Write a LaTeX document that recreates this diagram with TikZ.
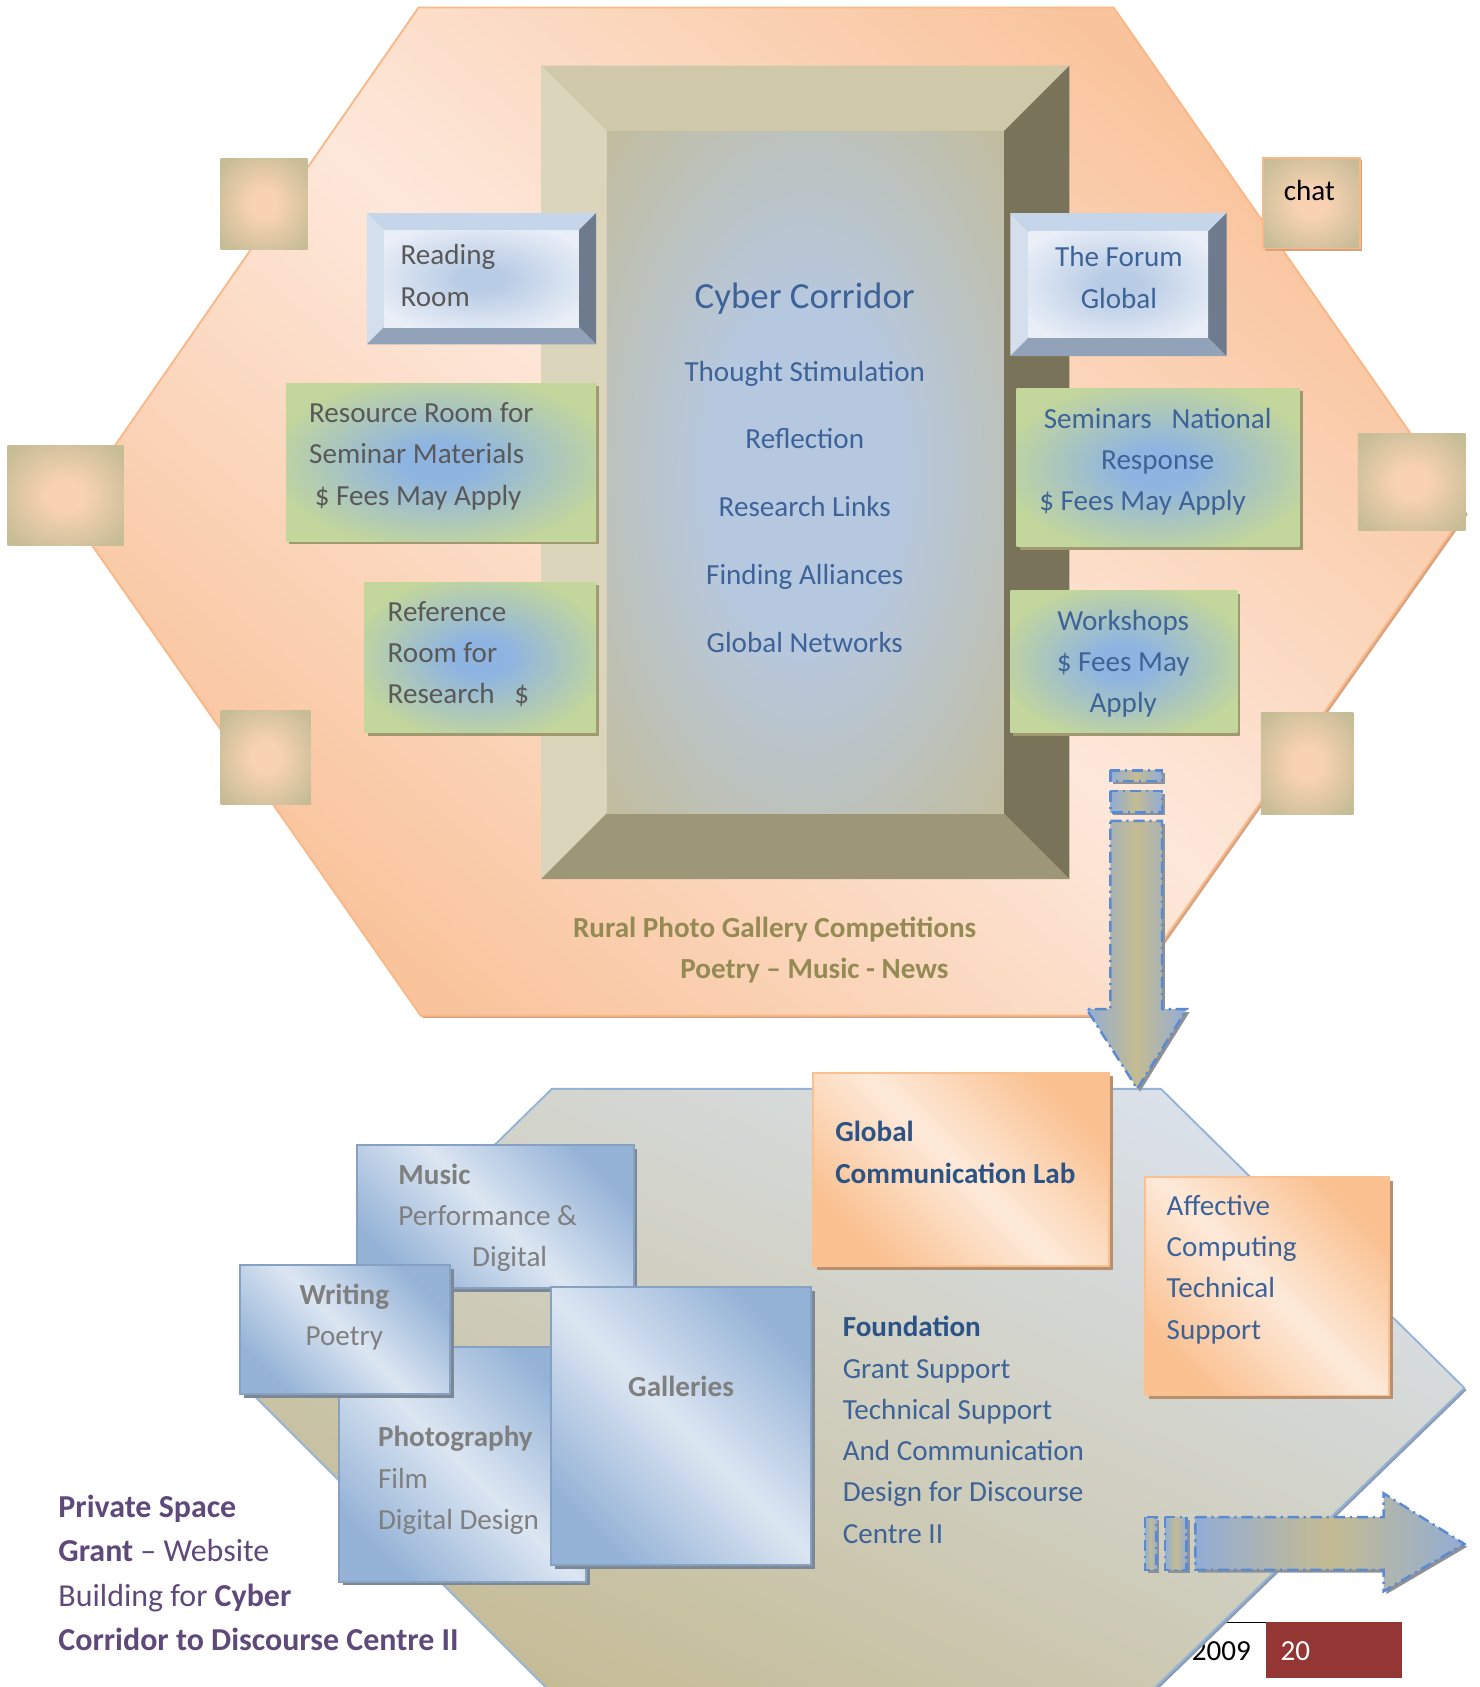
\documentclass[tikz,border=0pt]{standalone}
\usepackage{fontspec}
\setmainfont{Carlito}
\usetikzlibrary{fit,shadows}

\definecolor{hxdark}{HTML}{F9C39B}
\definecolor{hxlight}{HTML}{FDE8DB}
\definecolor{hxline}{HTML}{F8B887}
\definecolor{hxshadow}{HTML}{D6A27F}
\definecolor{cortop}{HTML}{CFC9A9}
\definecolor{corleft}{HTML}{DBD5BC}
\definecolor{corright}{HTML}{79735A}
\definecolor{corbottom}{HTML}{9D9677}
\definecolor{cortan}{HTML}{C2BC9C}
\definecolor{corblue}{HTML}{B6C8E0}
\definecolor{bbtop}{HTML}{C5D5EA}
\definecolor{bbleft}{HTML}{D4DFEE}
\definecolor{bbright}{HTML}{6E7B8D}
\definecolor{bbbottom}{HTML}{92A2B8}
\definecolor{bblight}{HTML}{E9EEF7}
\definecolor{bbcentre}{HTML}{B9CCE5}
\definecolor{grgreen}{HTML}{C3D69C}
\definecolor{grblue}{HTML}{8EB4E2}
\definecolor{grshadow}{HTML}{A09871}
\definecolor{sqtan}{HTML}{C6BC96}
\definecolor{sqpeach}{HTML}{F8D2B2}
\definecolor{lhtop}{HTML}{DAE1EA}
\definecolor{lhbottom}{HTML}{C5BC96}
\definecolor{lhline}{HTML}{95B3D7}
\definecolor{lhshadow}{HTML}{8C9CB2}
\definecolor{bxblue}{HTML}{95B3D7}
\definecolor{bxlight}{HTML}{DCE6F2}
\definecolor{bxshadow}{HTML}{7D8894}
\definecolor{ordark}{HTML}{FAC090}
\definecolor{orlight}{HTML}{FDEADA}
\definecolor{orshadow}{HTML}{B98F6D}
\definecolor{arblue}{HTML}{92ADD4}
\definecolor{artan}{HTML}{C4BB92}
\definecolor{ardash}{HTML}{5A8AD2}
\definecolor{arshadow}{HTML}{8E9196}
\definecolor{txgray}{HTML}{595959}
\definecolor{txgrey}{HTML}{7F7F7F}
\definecolor{txblue}{HTML}{3D6398}
\definecolor{txnavy}{HTML}{2C5386}
\definecolor{txolive}{HTML}{948A54}
\definecolor{txpurple}{HTML}{5F497A}
\definecolor{pagered}{HTML}{943634}

\pgfdeclareradialshading{corglow}{\pgfpoint{0bp}{0bp}}{color(0bp)=(corblue); color(12bp)=(corblue); color(36bp)=(cortan); color(50bp)=(cortan)}
\pgfdeclareradialshading{bbglow}{\pgfpoint{0bp}{0bp}}{color(0bp)=(bbcentre); color(6bp)=(bbcentre); color(30bp)=(bblight); color(50bp)=(bblight)}
\pgfdeclareradialshading{grglow}{\pgfpoint{0bp}{0bp}}{color(0bp)=(grblue); color(6bp)=(grblue); color(28bp)=(grgreen); color(50bp)=(grgreen)}
\pgfdeclareradialshading{sqglow}{\pgfpoint{0bp}{0bp}}{color(0bp)=(sqpeach); color(8bp)=(sqpeach); color(32bp)=(sqtan); color(50bp)=(sqtan)}

\newcommand{\boxfont}{\fontsize{15.4}{21.8}\selectfont}
% x1 y1 x2 y2 depth colourset
\newcommand{\bevelbox}[6]{%
  \fill[#6top] (#1,#2) -- (#3,#2) -- ({#3-#5},{#2+#5}) -- ({#1+#5},{#2+#5}) -- cycle;
  \fill[#6left] (#1,#2) -- ({#1+#5},{#2+#5}) -- ({#1+#5},{#4-#5}) -- (#1,#4) -- cycle;
  \fill[#6right] (#3,#2) -- (#3,#4) -- ({#3-#5},{#4-#5}) -- ({#3-#5},{#2+#5}) -- cycle;
  \fill[#6bottom] (#1,#4) -- ({#1+#5},{#4-#5}) -- ({#3-#5},{#4-#5}) -- (#3,#4) -- cycle;
}

\tikzset{
  hexupper/.style={
    top color=hxdark, bottom color=hxdark, middle color=hxlight,
    shading angle=-40, draw=hxline, line width=1pt,
    drop shadow={fill=hxshadow, opacity=1, shadow xshift=1.2pt, shadow yshift=-1.2pt}},
  hexlower/.style={
    top color=lhtop, bottom color=lhbottom, shading angle=-25,
    draw=lhline, line width=1pt,
    drop shadow={fill=lhshadow, opacity=1, shadow xshift=1.2pt, shadow yshift=-1.2pt}},
  glowbox/.style={inner sep=0pt, shade, shading=#1},
  tansq/.style={inner sep=0pt, shade, shading=sqglow},
  chatsq/.style={tansq, draw=hxline, line width=1pt,
    drop shadow={fill=hxshadow, opacity=1, shadow xshift=1.2pt, shadow yshift=-1.2pt}},
  greenbox/.style={inner sep=0pt, shade, shading=grglow,
    drop shadow={fill=grshadow, opacity=1, shadow xshift=1.6pt, shadow yshift=-1.6pt}},
  bluebox/.style={inner sep=0pt, top color=bxblue, bottom color=bxblue,
    middle color=bxlight, shading angle=-45, draw=bxblue!90!black, line width=1pt,
    drop shadow={fill=bxshadow, opacity=1, shadow xshift=2pt, shadow yshift=-2pt}},
  orangebox/.style={inner sep=0pt, top color=ordark, bottom color=ordark,
    middle color=orlight, shading angle=-45, draw=ordark, line width=1pt,
    drop shadow={fill=orshadow, opacity=1, shadow xshift=2pt, shadow yshift=-2pt}},
  arrowpiece/.style={left color=arblue, right color=arblue, middle color=artan,
    draw=ardash, line width=1.3pt, dash pattern=on 6pt off 2.5pt on 1.2pt off 2.5pt,
    drop shadow={fill=arshadow, opacity=1, shadow xshift=1.5pt, shadow yshift=-1.5pt}},
  arrowblock/.style={arrowpiece, fill=arblue!95!white},
  boxtext/.style={font=\boxfont, inner sep=0pt, align=left},
}

\begin{document}
\begin{tikzpicture}[x=0.02cm,y=-0.02cm]
  \useasboundingbox (0,0) rectangle (1375,1568);

  % page footer, under the lower hexagon
  \draw[black, line width=0.8pt] (1040,1508) coordinate (footl) -- (1177,1508) coordinate (footr);
  \node[fill=pagered, inner sep=0pt, fit={(1177,1508) (1303,1560)}] (pagebox) {};
  \node[boxtext, text=white, anchor=west] (pagenum) at (1190,1535) {20};
  \node[boxtext, text=black, anchor=east] (pageyear) at (1163,1535) {2009};

  % upper hexagon
  \draw[hexupper] (389,7) -- (1035,7) -- (1362,476) -- (1032,944) -- (391,944) -- (64,476) -- cycle;

  % corridor frame
  \bevelbox{503}{61}{994}{817}{61}{cor}
  \node[glowbox=corglow, fit={(564,122) (933,756)}] (corridor) {};
  \node[font=\fontsize{19.5}{23}\selectfont, text=txblue, inner sep=0pt] (cortitle) at (748,278) {Cyber Corridor};
  \node[font=\fontsize{15.4}{35.9}\selectfont, text=txblue, inner sep=0pt, align=center] (corlist) at (748,471)
    {Thought Stimulation\\Reflection\\Research Links\\Finding Alliances\\Global Networks};

  % small squares
  \node[tansq, fit={(205,147) (286,232)}] (sqa) {};
  \node[tansq, fit={(7,414) (115,507)}] (sqb) {};
  \node[tansq, fit={(205,660) (289,748)}] (sqc) {};
  \node[tansq, fit={(1262,403) (1362,493)}] (sqd) {};
  \node[tansq, fit={(1172,662) (1258,757)}] (sqe) {};
  \node[chatsq, fit={(1174,147) (1264,231)}] (chatbox) {};
  \node[boxtext, text=black] (chat) at (1217,177) {chat};

  % bevel buttons
  \bevelbox{341}{198}{554}{320}{16}{bb}
  \node[glowbox=bbglow, fit={(357,214) (538,304)}] (reading) {};
  \node[boxtext, text=txgray, anchor=west] (readingtxt) at (372,256) {Reading\\Room};
  \bevelbox{939}{198}{1140}{331}{17}{bb}
  \node[glowbox=bbglow, fit={(956,215) (1123,314)}] (forum) {};
  \node[boxtext, text=txblue, align=center] (forumtxt) at (1040,258) {The Forum\\Global};

  % green boxes
  \node[greenbox, fit={(266,356) (554,503)}] (resource) {};
  \node[boxtext, text=txgray, anchor=west] (resourcetxt) at (287,424)
    {Resource Room for\\Seminar Materials\\\hspace*{3pt}\$ Fees May Apply};
  \node[greenbox, fit={(339,541) (554,681)}] (reference) {};
  \node[boxtext, text=txgray, anchor=west] (referencetxt) at (360,608)
    {Reference\\Room for\\Research~~~\$};
  \node[greenbox, fit={(945,361) (1208,508)}] (seminars) {};
  \node[boxtext, text=txblue, align=center] (seminarstxt) at (1076,429)
    {Seminars~~~National\\Response\\\$ Fees May Apply\hspace*{16pt}};
  \node[greenbox, fit={(939,549) (1150,681)}] (workshops) {};
  \node[boxtext, text=txblue, align=center] (workshopstxt) at (1044,617)
    {Workshops\\\$ Fees May\\Apply};

  \node[boxtext, text=txolive, font=\boxfont\bfseries] (rural) at (720,864) {Rural Photo Gallery Competitions};
  \node[boxtext, text=txolive, font=\boxfont\bfseries] (poetry) at (757,902) {Poetry – Music - News};

  % lower hexagon
  \draw[hexlower] (513,1012) -- (1079,1012) -- (1361,1290) -- (1072,1570) -- (509,1570) -- (229,1290) -- cycle;

  % arrow down
  \draw[arrowpiece] (1032,716) rectangle (1080,726);
  \draw[arrowpiece] (1032,735) rectangle (1080,755);
  \draw[arrowpiece] (1032,763) -- (1080,763) -- (1080,938) -- (1103,938) -- (1057,1012)
    -- (1010,938) -- (1032,938) -- cycle;

  % blue boxes
  \node[bluebox, fit={(332,1064) (589,1197)}] (music) {};
  \node[boxtext, text=txgrey, anchor=west] (musictxt) at (370,1132)
    {\textbf{Music}\\Performance \&\\\hspace*{39pt}Digital};
  \node[bluebox, fit={(315,1252) (545,1470)}] (photo) {};
  \node[boxtext, text=txgrey, anchor=west] (phototxt) at (351,1376)
    {\textbf{Photography}\\Film\\Digital Design};
  \node[bluebox, fit={(223,1176) (418,1296)}] (writing) {};
  \node[boxtext, text=txgrey, align=center] (writingtxt) at (320,1224) {\textbf{Writing}\\Poetry};
  \node[bluebox, fit={(512,1196) (754,1455)}] (galleries) {};
  \node[boxtext, text=txgrey, font=\boxfont\bfseries] (galleriestxt) at (633,1289) {Galleries};

  % orange boxes
  \node[orangebox, fit={(756,997) (1031,1177)}] (lab) {};
  \node[boxtext, text=txnavy, font=\boxfont\bfseries, anchor=west] (labtxt) at (776,1071)
    {Global\\Communication Lab};
  \node[orangebox, fit={(1064,1094) (1291,1297)}] (affective) {};
  \node[boxtext, text=txblue, anchor=west] (affectivetxt) at (1084,1180)
    {Affective\\Computing\\Technical\\Support};

  \node[boxtext, text=txblue, anchor=west] (foundation) at (783,1329)
    {{\color{txnavy}\textbf{Foundation}}\\Grant Support\\Technical Support\\And Communication\\Design for Discourse\\Centre II};

  % arrow right
  \draw[arrowblock] (1064,1410) rectangle (1075,1459);
  \draw[arrowblock] (1083,1410) rectangle (1103,1459);
  \draw[arrowpiece] (1111,1410) -- (1286,1410) -- (1286,1388) -- (1361,1435) -- (1286,1479)
    -- (1286,1459) -- (1111,1459) -- cycle;

  \node[text=txpurple, font=\fontsize{16.9}{23.4}\selectfont, inner sep=0pt, align=left, anchor=west] (grant) at (54,1462)
    {\textbf{Private Space}\\\textbf{Grant} – Website\\Building for \textbf{Cyber}\\\textbf{Corridor to Discourse Centre II}};
\end{tikzpicture}
\end{document}
